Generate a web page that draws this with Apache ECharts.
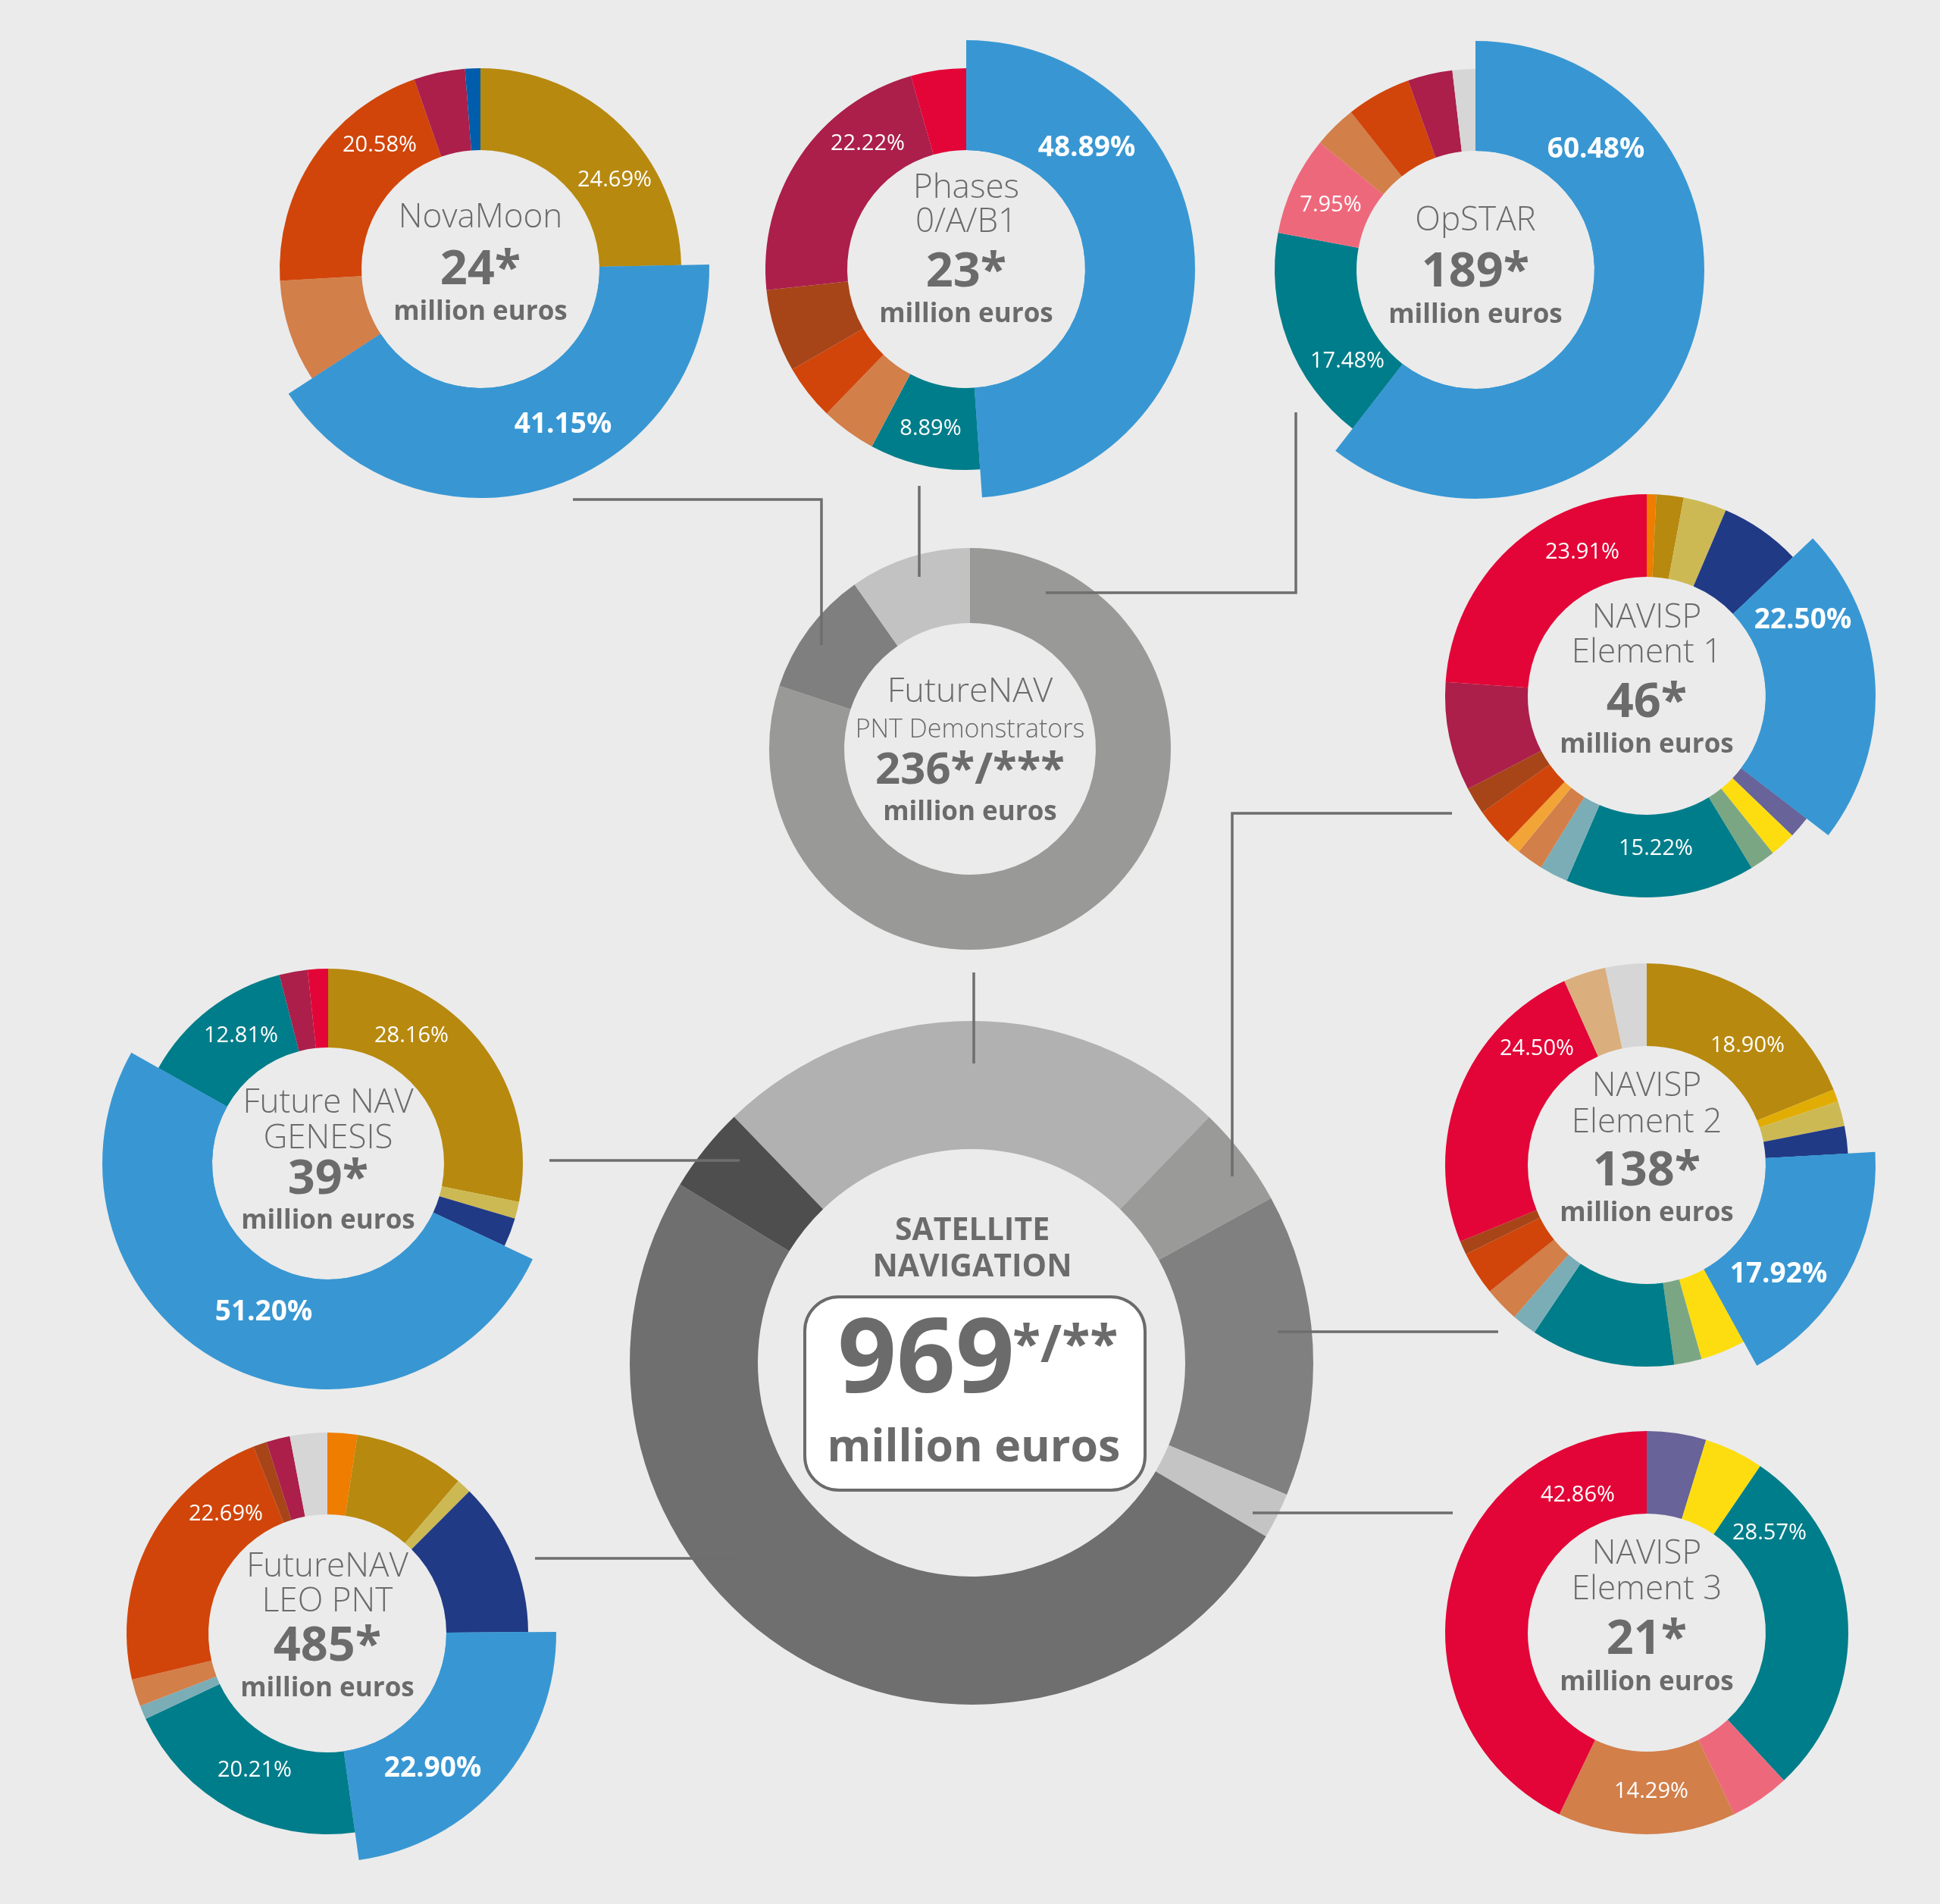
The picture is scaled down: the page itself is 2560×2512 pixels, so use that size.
<!DOCTYPE html>
<html><head><meta charset="utf-8">
<script src="https://cdn.jsdelivr.net/npm/echarts@6/dist/echarts.min.js"></script>
<style>html,body{margin:0;padding:0;background:#ebebeb}#c{width:2560px;height:2512px}</style>
</head><body><div id="c"></div>
<script>
// ---------- DATA (shares in %, clockwise from 12 o'clock) ----------
const novaMoonShares = [24.69, 41.15, 8.23, 20.58, 4.12, 1.23];
const phasesShares   = [48.89, 8.89, 4.44, 4.44, 6.67, 22.22, 4.44];
const opStarShares   = [60.48, 17.48, 7.95, 3.45, 5.20, 3.60, 1.84];
const navisp1Shares  = [0.76, 2.18, 3.48, 6.50, 22.50, 1.75, 2.07, 2.04, 15.22, 2.29, 2.15, 1.19, 3.05, 2.18, 8.73, 23.91];
const navisp2Shares  = [18.90, 1.00, 2.00, 2.20, 17.92, 3.60, 2.20, 11.60, 2.00, 2.80, 3.50, 1.10, 24.50, 3.40, 3.30];
const navisp3Shares  = [4.76, 4.76, 28.57, 4.76, 14.29, 42.86];
const genesisShares  = [28.16, 1.40, 2.40, 51.20, 12.81, 2.35, 1.68];
const leoShares      = [2.40, 8.90, 1.20, 12.40, 22.90, 20.21, 1.10, 2.20, 22.69, 1.10, 1.90, 3.00];
// FutureNAV PNT Demonstrators split (million euros): OpSTAR, NovaMoon, Phases 0/A/B1
const pntDemoValues  = [189, 24, 23];
// Satellite navigation split (million euros): PNT Demonstrators, NAVISP E1, E2, E3, LEO PNT, GENESIS
const centralValues  = [236, 46, 138, 21, 485, 39];

const novaMoonTitle = ['NovaMoon'];            const novaMoonTotal = '24*';
const phasesTitle   = ['Phases', '0/A/B1'];    const phasesTotal   = '23*';
const opStarTitle   = ['OpSTAR'];              const opStarTotal   = '189*';
const navisp1Title  = ['NAVISP', 'Element 1']; const navisp1Total  = '46*';
const navisp2Title  = ['NAVISP', 'Element 2']; const navisp2Total  = '138*';
const navisp3Title  = ['NAVISP', 'Element 3']; const navisp3Total  = '21*';
const genesisTitle  = ['Future NAV', 'GENESIS']; const genesisTotal = '39*';
const leoTitle      = ['FutureNAV', 'LEO PNT']; const leoTotal     = '485*';
const pntDemoTitle  = ['FutureNAV', 'PNT Demonstrators']; const pntDemoTotal = '236*/***';
const centralTitle  = ['SATELLITE', 'NAVIGATION']; const centralTotal = '969'; const centralNote = '*/**';
const unitLabel = 'million euros';

// ---------- STYLES ----------
const K = {blue:'#3897d3', gold:'#b7890f', orangeRed:'#d1450a', peach:'#d27f4a', crimson:'#ab1f4a',
  darkBlue:'#005dab', red:'#e30537', brown:'#a74519', teal:'#007d8a', pink:'#ee687c', lightGrey:'#d6d6d6',
  orange:'#ee7d00', khaki:'#cdb953', navy:'#213a86', slate:'#686398', yellow:'#fddd10', sage:'#7ba683',
  steel:'#7badb7', lightOrange:'#f3a436', amber:'#e1ad05', tan:'#dbae7e'};
const novaMoonColors = [K.gold, K.blue, K.peach, K.orangeRed, K.crimson, K.darkBlue];
const phasesColors   = [K.blue, K.teal, K.peach, K.orangeRed, K.brown, K.crimson, K.red];
const opStarColors   = [K.blue, K.teal, K.pink, K.peach, K.orangeRed, K.crimson, K.lightGrey];
const navisp1Colors  = [K.orange, K.gold, K.khaki, K.navy, K.blue, K.slate, K.yellow, K.sage, K.teal, K.steel, K.peach, K.lightOrange, K.orangeRed, K.brown, K.crimson, K.red];
const navisp2Colors  = [K.gold, K.amber, K.khaki, K.navy, K.blue, K.yellow, K.sage, K.teal, K.steel, K.peach, K.orangeRed, K.brown, K.red, K.tan, K.lightGrey];
const navisp3Colors  = [K.slate, K.yellow, K.teal, K.pink, K.peach, K.red];
const genesisColors  = [K.gold, K.khaki, K.navy, K.blue, K.teal, K.crimson, K.red];
const leoColors      = [K.orange, K.gold, K.khaki, K.navy, K.blue, K.teal, K.steel, K.peach, K.orangeRed, K.brown, K.crimson, K.lightGrey];
const pntDemoColors  = ['#999997', '#7f7f7f', '#c2c2c2'];
const centralColors  = ['#b1b1b1', '#9a9a98', '#808080', '#c4c4c4', '#6f6f6f', '#4e4e4e'];

const FONT = '"Open Sans", "Noto Sans", sans-serif';
const GREY = '#6b6b6b';

const donuts = [
  {values: novaMoonShares, colors: novaMoonColors, title: novaMoonTitle, total: novaMoonTotal,
   L: {c:[634,355], r:[157,265], rex:302, ex:1, names:[-68], value:2, units:57,
       labels:[[0,811,238],[1,743,560,1],[3,501,192]]}},
  {values: phasesShares, colors: phasesColors, title: phasesTitle, total: phasesTotal,
   L: {c:[1275,355], r:[157,265], rex:302, ex:0, names:[-107,-62], value:5, units:60,
       labels:[[0,1434,195,1],[1,1228,566],[5,1145,190]]}},
  {values: opStarShares, colors: opStarColors, title: opStarTitle, total: opStarTotal,
   L: {c:[1947,356], r:[157,265], rex:302, ex:0, names:[-65], value:4, units:60,
       labels:[[0,2106,197,1],[1,1778,477],[2,1756,271]]}},
  {values: navisp1Shares, colors: navisp1Colors, title: navisp1Title, total: navisp1Total,
   L: {c:[2173,918], r:[157,266], rex:302, ex:4, names:[-103,-57], value:10, units:65,
       labels:[[4,2379,818,1],[8,2185,1120],[15,2088,729]]}},
  {values: navisp2Shares, colors: navisp2Colors, title: navisp2Title, total: navisp2Total,
   L: {c:[2173,1537], r:[157,266], rex:302, ex:4, names:[-104,-56], value:9, units:64,
       labels:[[0,2306,1380],[4,2347,1681,1],[12,2028,1384]]}},
  {values: navisp3Shares, colors: navisp3Colors, title: navisp3Title, total: navisp3Total,
   L: {c:[2173,2154], r:[157,266], rex:null, ex:-1, names:[-104,-57], value:10, units:66,
       labels:[[2,2335,2023],[4,2179,2364],[5,2082,1973]]}},
  {values: genesisShares, colors: genesisColors, title: genesisTitle, total: genesisTotal,
   L: {c:[433,1535], r:[153,257], rex:298, ex:3, names:[-80,-33], value:22, units:76,
       labels:[[0,543,1367],[3,348,1731,1],[4,318,1367]]}},
  {values: leoShares, colors: leoColors, title: leoTitle, total: leoTotal,
   L: {c:[432,2155], r:[157,265], rex:302, ex:4, names:[-88,-42], value:18, units:73,
       labels:[[4,571,2333,1],[5,336,2336],[8,298,1998]]}},
  {values: pntDemoValues, colors: pntDemoColors, title: pntDemoTitle, total: pntDemoTotal,
   L: {c:[1280,988], r:[166,265], rex:null, ex:-1, names:[-75,-25], nameSizes:[45,34], value:29, valueSize:58, units:84, labels:[]}}
];

function pie(center, radius, values, colors, startAngle, hideExcept) {
  return {
    type: 'pie', center: center, radius: radius, startAngle: startAngle, clockwise: true,
    silent: true, animation: false, avoidLabelOverlap: false, minAngle: 0,
    label: {show: false}, labelLine: {show: false}, emphasis: {disabled: true},
    itemStyle: {borderWidth: 0},
    data: values.map((v, i) => ({value: v, itemStyle: {
      color: (hideExcept === undefined || hideExcept === i) ? colors[i] : 'rgba(0,0,0,0)', borderWidth: 0}}))
  };
}
function txt(text, x, y, size, weight, fill, align) {
  return {type: 'text', x: x, y: y, z: 100, silent: true,
    style: {text: text, fill: fill || GREY, fontSize: size, fontWeight: weight, fontFamily: FONT,
      align: align || 'center', verticalAlign: 'middle', textAlign: align || 'center', textVerticalAlign: 'middle'}};
}

const series = [];
const elements = [];
donuts.forEach(d => {
  const L = d.L;
  series.push(pie(L.c, L.r, d.values, d.colors, 90));
  if (L.rex) series.push(pie(L.c, [L.r[0], L.rex], d.values, d.colors, 90, L.ex));
  const cx = L.c[0], cy = L.c[1];
  d.title.forEach((t, i) => elements.push(txt(t, cx, cy + L.names[i], L.nameSizes ? L.nameSizes[i] : 44, 300)));
  elements.push(txt(d.total, cx, cy + L.value, L.valueSize || 63, 'bold'));
  elements.push(txt(unitLabel, cx, cy + L.units, 35, 'bold'));
  L.labels.forEach(lb => {
    const v = d.values[lb[0]];
    elements.push(txt(v.toFixed(2) + '%', lb[1], lb[2], lb[3] ? 37 : 29, lb[3] ? 'bold' : 'normal', '#ffffff'));
  });
});

// central donut
const CC = [1282, 1798];
series.push(pie(CC, [282, 451], centralValues, centralColors, 134));
elements.push({type: 'rect', z: 90, silent: true, shape: {x: 1062, y: 1711, width: 449, height: 255, r: 45},
  style: {fill: '#ffffff', stroke: GREY, lineWidth: 4}});
elements.push(txt(centralTitle[0], 1283, 1624, 41, 'bold'));
elements.push(txt(centralTitle[1], 1283, 1672, 41, 'bold'));
elements.push(txt(centralTotal, 1222, 1798, 136, 'bold'));
elements.push(txt(centralNote, 1336, 1778, 68, 'bold', GREY, 'left'));
elements.push(txt(unitLabel, 1285, 1911, 59, 'bold'));

// connector lines
const connectors = [
  [[756,659],[1084,659],[1084,851]],
  [[1213,641],[1213,761]],
  [[1710,544],[1710,782],[1380,782]],
  [[1285,1283],[1285,1403]],
  [[1916,1073],[1626,1073],[1626,1552]],
  [[1977,1757],[1686,1757]],
  [[1917,1996],[1653,1996]],
  [[725,1531],[976,1531]],
  [[706,2056],[968,2056]]
];
connectors.forEach(p => elements.push({type: 'polyline', z: 95, silent: true, shape: {points: p},
  style: {stroke: '#6e6e6e', lineWidth: 3.5, fill: null}}));

const chart = echarts.init(document.getElementById('c'), null, {renderer: 'canvas'});
chart.setOption({
  backgroundColor: '#ebebeb',
  animation: false,
  series: series,
  graphic: {elements: elements}
});
</script></body></html>
